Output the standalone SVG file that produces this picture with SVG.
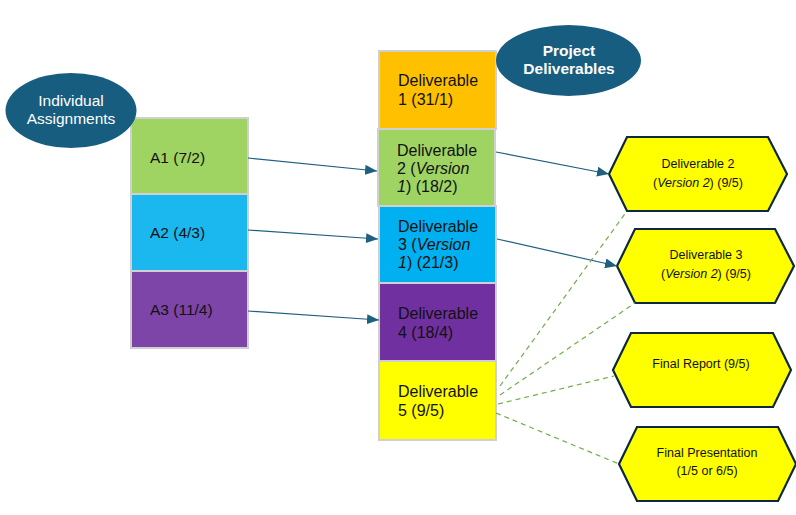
<svg xmlns="http://www.w3.org/2000/svg" width="796" height="515" viewBox="0 0 796 515">
<style>
text{font-family:"Liberation Sans",Arial,sans-serif;}
.box{stroke:#d0d0d0;stroke-width:2;}
.bt{font-size:16px;fill:#111;}
.lt{font-size:15.5px;fill:#111;}
.ell{fill:#175d80;}
.et{font-size:15.5px;fill:#fff;text-anchor:middle;}
.hex{fill:#ffff00;stroke:#0e2841;stroke-width:2.2;stroke-linejoin:miter;}
.ht{font-size:12.5px;fill:#111;text-anchor:middle;}
.arr{stroke:#1f5f80;stroke-width:1.2;fill:none;marker-end:url(#ah);}
.dash{stroke:#70ad47;stroke-width:1.2;stroke-dasharray:5,4;fill:none;}
</style>
<defs>
<marker id="ah" markerUnits="userSpaceOnUse" markerWidth="12" markerHeight="10" refX="12" refY="5" orient="auto">
<path d="M0,0 L12,5 L0,10 Z" fill="#1f5f80"/>
</marker>
</defs>
<rect width="796" height="515" fill="#fff"/>

<g id="a1"><rect class="box" x="131" y="118" width="117" height="76" fill="#9fd463"/><text class="lt" x="150" y="163">A1 (7/2)</text></g>
<g id="a2"><rect class="box" x="131" y="194" width="117" height="77" fill="#1ab8ee"/><text class="lt" x="150" y="238">A2 (4/3)</text></g>
<g id="a3"><rect class="box" x="131" y="271" width="117" height="77" fill="#7c45a7"/><text class="lt" x="150" y="315">A3 (11/4)</text></g>
<g id="individual-assignments"><ellipse class="ell" cx="71" cy="110.5" rx="65.5" ry="37.5"/><text class="et" x="71" y="106">Individual</text><text class="et" x="71" y="124">Assignments</text></g>

<g id="d1"><rect class="box" x="379" y="51" width="117" height="78" fill="#ffc000"/><text class="bt" x="398" y="86">Deliverable</text><text class="bt" x="398" y="105">1 (31/1)</text></g>
<g id="d2"><rect class="box" x="378" y="129" width="117" height="77" fill="#9fd463"/><text class="bt" x="397" y="156">Deliverable</text><text class="bt" x="397" y="174">2 (<tspan font-style="italic">Version</tspan></text><text class="bt" x="397" y="192"><tspan font-style="italic">1</tspan>) (18/2)</text></g>
<g id="d3"><rect class="box" x="379" y="206" width="117" height="77" fill="#00b0f0"/><text class="bt" x="398" y="232">Deliverable</text><text class="bt" x="398" y="250">3 (<tspan font-style="italic">Version</tspan></text><text class="bt" x="398" y="268"><tspan font-style="italic">1</tspan>) (21/3)</text></g>
<g id="d4"><rect class="box" x="379" y="283" width="117" height="78" fill="#7030a0"/><text class="bt" x="398" y="318.5">Deliverable</text><text class="bt" x="398" y="337.5">4 (18/4)</text></g>
<g id="d5"><rect class="box" x="379" y="361" width="117" height="79" fill="#ffff00"/><text class="bt" x="398" y="397">Deliverable</text><text class="bt" x="398" y="415.5">5 (9/5)</text></g>
<g id="project-deliverables"><ellipse class="ell" cx="568.5" cy="60.5" rx="72.5" ry="35.5"/><text class="et" x="569" y="55.5" font-weight="bold">Project</text><text class="et" x="569" y="73.5" font-weight="bold">Deliverables</text></g>

<g id="h1"><polygon class="hex" points="609,174 627,137 768,137 787,174 768,211 627,211"/><text class="ht" x="698" y="167.5">Deliverable 2</text><text class="ht" x="698" y="186.5">(<tspan font-style="italic">Version 2</tspan>) (9/5)</text></g>
<g id="h2"><polygon class="hex" points="617,266 635,229 775,229 794,266 775,303 635,303"/><text class="ht" x="706" y="258.5">Deliverable 3</text><text class="ht" x="706" y="277.5">(<tspan font-style="italic">Version 2</tspan>) (9/5)</text></g>
<g id="h3"><polygon class="hex" points="613,370 631,333 773,333 791,370 773,407 631,407"/><text class="ht" x="701" y="367.5">Final Report (9/5)</text></g>
<g id="h4"><polygon class="hex" points="619,464 637,427 778,427 796,464 778,501 637,501"/><text class="ht" x="707" y="456.5">Final Presentation</text><text class="ht" x="707" y="474.5">(1/5 or 6/5)</text></g>

<g id="connectors">
<line class="arr" x1="248" y1="158" x2="377" y2="171"/>
<line class="arr" x1="248" y1="230" x2="378" y2="239"/>
<line class="arr" x1="248" y1="311" x2="379" y2="320"/>
<line class="arr" x1="496" y1="152" x2="609" y2="174"/>
<line class="arr" x1="497" y1="239" x2="617" y2="266"/>
<line class="dash" x1="500" y1="386" x2="627" y2="211"/>
<line class="dash" x1="500" y1="395" x2="635" y2="303"/>
<line class="dash" x1="498" y1="404" x2="614" y2="376"/>
<line class="dash" x1="496" y1="413" x2="619" y2="464"/>
</g>
</svg>
